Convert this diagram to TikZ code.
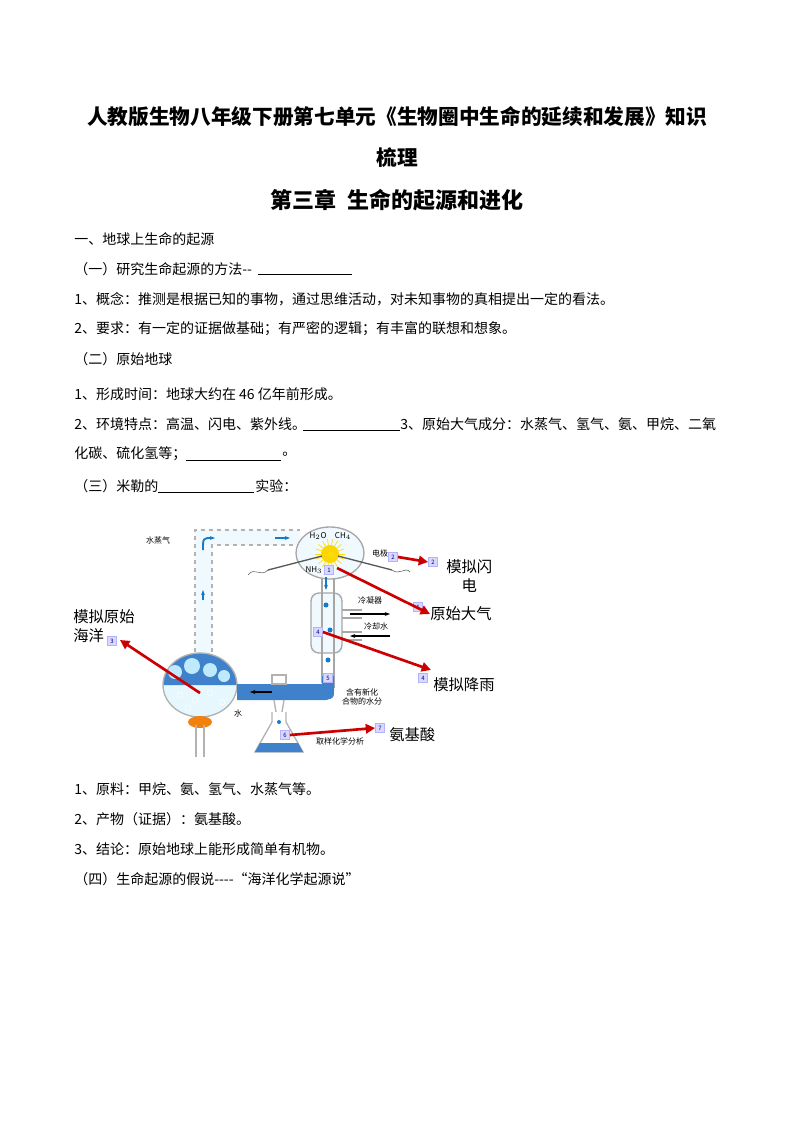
\documentclass[tikz,border=0pt]{standalone}
\usepackage{fontspec}
\setmainfont{Noto Sans CJK SC}
\usetikzlibrary{arrows.meta,shapes.geometric}
\begin{document}
\begin{tikzpicture}[x=0.75pt,y=-0.75pt,
  body/.style={anchor=west,inner sep=0pt,font=\fontsize{10.5pt}{12pt}\selectfont},
  big/.style={inner sep=0pt,font=\fontsize{11.5pt}{14pt}\selectfont},
  tiny/.style={inner sep=0pt,font=\fontsize{6pt}{7pt}\selectfont},
  blank/.style={line width=0.6pt},
  num/.style={fill=blue!15,draw=blue!30,inner sep=0.8pt,minimum size=7pt,font=\fontsize{4.5pt}{5pt}\selectfont,text=blue!50!black},
  redarr/.style={draw=red!80!black,line width=2pt,-{Triangle[length=7pt,width=7pt]}},
  tube/.style={draw=gray!60,line width=1.2pt,dashed},
  bluearr/.style={draw=cyan!60!blue,line width=1.4pt,-{Stealth[length=4pt]}}]
\useasboundingbox (0,0) rectangle (794,1123);
% title
\node[inner sep=0pt,font=\fontsize{15.5pt}{18pt}\selectfont\bfseries] (t1) at (397,117) {人教版生物八年级下册第七单元《生物圈中生命的延续和发展》知识};
\node[inner sep=0pt,font=\fontsize{15.5pt}{18pt}\selectfont\bfseries] (t2) at (397,158) {梳理};
\node[inner sep=0pt,font=\fontsize{16.5pt}{20pt}\selectfont\bfseries] (t3) at (397,200) {第三章\ \ 生命的起源和进化};
% body
\node[body] (l1) at (74,239) {一、地球上生命的起源};
\node[body] (l2) at (74,269) {（一）研究生命起源的方法{-}{-}};
\draw[blank] (258,274) -- (352,274);
\node[body] (l3) at (74,299) {1、概念：推测是根据已知的事物，通过思维活动，对未知事物的真相提出一定的看法。};
\node[body] (l4) at (74,329) {2、要求：有一定的证据做基础；有严密的逻辑；有丰富的联想和想象。};
\node[body] (l5) at (74,359) {（二）原始地球};
\node[body] (l6) at (74,394) {1、形成时间：地球大约在 46 亿年前形成。};
\node[body] (l7) at (74,424) {2、环境特点：高温、闪电、紫外线。};
\draw[blank] (303,430) -- (400,430);
\node[body] (l7b) at (400,424) {3、原始大气成分：水蒸气、氢气、氨、甲烷、二氧};
\node[body] (l8) at (74,454) {化碳、硫化氢等；};
\draw[blank] (186,460) -- (281,460);
\node[body] (l8b) at (282,454) {。};
\node[body] (l9) at (74,486) {（三）米勒的};
\draw[blank] (158,492) -- (254,492);
\node[body] (l9b) at (255,486) {实验：};
\node[body] (l10) at (74,789) {1、原料：甲烷、氨、氢气、水蒸气等。};
\node[body] (l11) at (74,819) {2、产物（证据）：氨基酸。};
\node[body] (l12) at (74,849) {3、结论：原始地球上能形成简单有机物。};
\node[body] (l13) at (74,879) {（四）生命起源的假说{-}{-}{-}{-}“海洋化学起源说”};
% ---------- apparatus ----------
% tube from flask up and across
\fill[cyan!6] (195,660) -- (195,530) -- (300,530) -- (300,545) -- (212,545) -- (212,660) -- cycle;
\draw[tube] (195,660) -- (195,530) -- (300,530);
\draw[tube] (212,660) -- (212,545) -- (300,545);
% spark chamber
\fill[cyan!6] (330,553) ellipse (34 and 26);
\draw[gray!70,line width=1pt] (330,553) ellipse (34 and 26);
\fill[yellow!70!orange] (330,554) circle (9);
\foreach \a in {0,20,...,340} \draw[yellow!80!orange,line width=0.5pt] (330,554) -- ++(\a:15);
\draw[gray!70!black,line width=1pt] (268,570) -- (322,556);
\draw[gray!70!black,line width=1pt] (338,556) -- (392,570);
\draw[gray!70!black] (268,570) .. controls (260,578) and (255,566) .. (248,575);
\draw[gray!70!black] (392,570) .. controls (400,576) and (405,566) .. (410,572);
\node[tiny] (h2o) at (318,536) {H$_2$O};
\node[tiny] (ch4) at (343,536) {CH$_4$};
\node[tiny] (nh3) at (314,570) {NH$_3$};
% down tube & condenser
\fill[cyan!6] (311,593) rectangle (342,653);
\draw[gray!70,line width=1pt] (322,578) -- (322,683);
\draw[gray!70,line width=1pt] (334,578) -- (334,688);
\draw[gray!70,line width=1pt,rounded corners=6pt] (311,593) rectangle (342,653);
\draw[gray!70,line width=1pt] (342,610) -- (362,610) (342,618) -- (362,618) (342,632) -- (362,632) (342,640) -- (362,640);
\draw[-{Stealth[length=4pt]},line width=0.8pt] (350,614) -- (390,614);
\draw[-{Stealth[length=4pt]},line width=0.8pt] (390,636) -- (350,636);
\fill[cyan!60!blue] (326,605) circle (2.5) (330,630) circle (2.5) (328,660) circle (2.5);
% flask
\fill[cyan!10] (200,685) ellipse (37 and 32);
\fill[cyan!50!blue!80] (163,685) arc (180:360:37 and 32) -- cycle;
\draw[gray!60,line width=1pt] (200,685) ellipse (37 and 32);
\fill[cyan!25] (175,672) circle (7) (192,666) circle (8) (210,670) circle (7) (224,676) circle (6);
\foreach \p in {(180,695),(195,700),(210,693),(222,702),(188,708)} \draw[white] \p circle (3);
% burner
\fill[orange!80!brown] (200,722) ellipse (12 and 6);
\draw[gray!60,line width=1pt] (196,725) -- (196,757) (204,725) -- (204,757);
% bottom horizontal tube
\fill[cyan!50!blue!80] (237,684) -- (322,684) -- (322,676) -- (334,676) -- (334,690) .. controls (334,698) .. (326,700) -- (237,700) -- cycle;
\draw[-{Stealth[length=4pt]},line width=1pt] (272,692) -- (250,692);
% stopcock
\draw[gray!60,line width=1pt] (272,675) rectangle (286,684);
\draw[gray!60,line width=1pt] (274,700) -- (276,712) (284,700) -- (282,712);
% erlenmeyer
\draw[gray!60,line width=1pt] (272,712) -- (272,722) -- (255,752) -- (303,752) -- (286,722) -- (286,712);
\fill[cyan!50!blue!80] (260,743) -- (298,743) -- (303,752) -- (255,752) -- cycle;
\fill[cyan!60!blue] (279,722) circle (2);
% blue arrows
\draw[bluearr] (203,600) -- (203,590);
\draw[bluearr] (203,550) .. controls (203,538) .. (215,538);
\draw[bluearr] (275,538) -- (290,538);
\draw[bluearr] (326,577) -- (326,590);
% small labels
\node[tiny] (shz) at (158,540) {水蒸气};
\node[tiny] (dj) at (380,553) {电极};
\node[tiny] (lnq) at (370,600) {冷凝器};
\node[tiny] (lqs) at (376,626) {冷却水};
\node[tiny,align=center] (hy) at (362,697) {含有新化\\合物的水分};
\node[tiny] (sh) at (238,713) {水};
\node[tiny] (qy) at (340,741) {取样化学分析};
% number boxes
\node[num] (n2a) at (393,557) {2};
\node[num] (n2b) at (433,562) {2};
\node[num] (n1a) at (329,570) {1};
\node[num] (n1b) at (418,607) {1};
\node[num] (n3) at (112,641) {3};
\node[num] (n4a) at (318,632) {4};
\node[num] (n4b) at (423,678) {4};
\node[num] (n5) at (328,678) {5};
\node[num] (n6) at (285,735) {6};
\node[num] (n7) at (380,728) {7};
% big labels
\node[big,anchor=west,align=center] (mnsd) at (446,576) {模拟闪\\电};
\node[big,anchor=west] (ysdq) at (430,614) {原始大气};
\node[big,anchor=west,align=left] (mnhy) at (73,626) {模拟原始\\海洋};
\node[big,anchor=west] (mnjy) at (433,685) {模拟降雨};
\node[big,anchor=west] (ajs) at (389,735) {氨基酸};
% red arrows
\coordinate (f1) at (200,693);
\draw[redarr] (n2a.east) -- (n2b.west);
\draw[redarr] (337,568) -- (ysdq.west);
\draw[redarr] (f1) -- (120,640);
\draw[redarr] (n4a.east) -- (431,670);
\draw[redarr] (n6.east) -- (n7.west);
\end{tikzpicture}
\end{document}
